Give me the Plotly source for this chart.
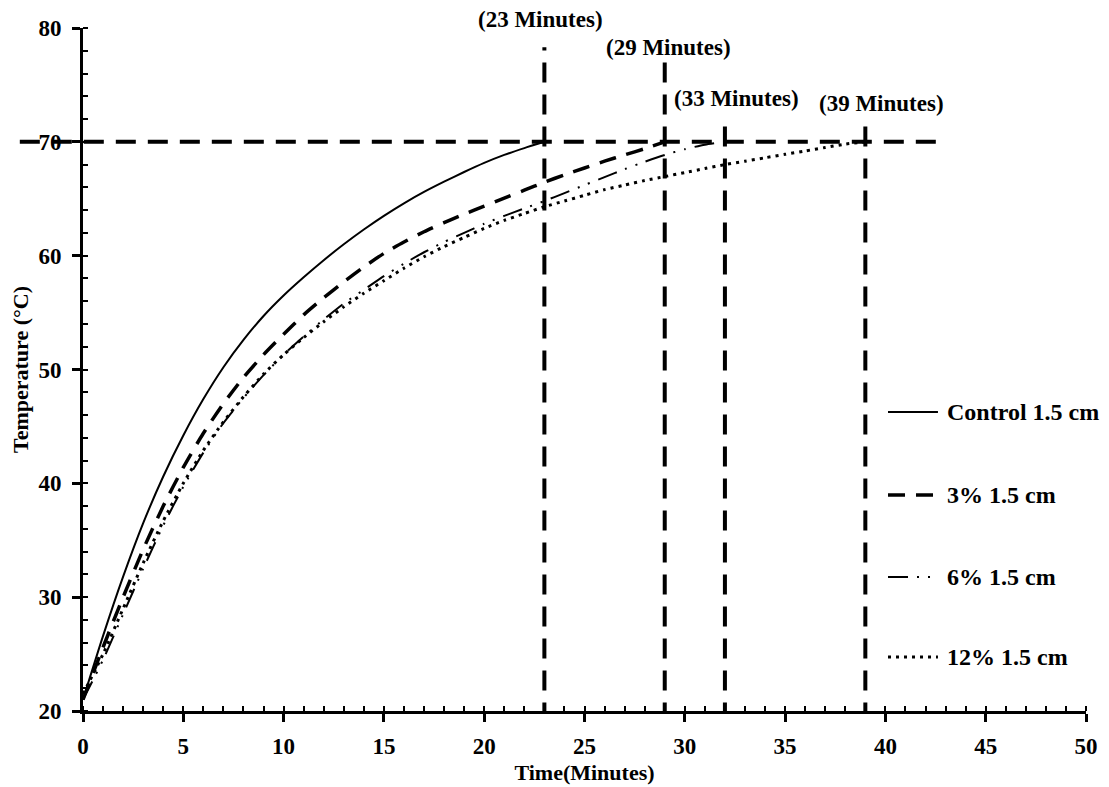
import plotly.graph_objects as go

# ---- data ----
t_control = list(range(0, 24))
T_control = [21, 26.6, 31.8, 36.5, 40.6, 44.2, 47.4, 50.2, 52.6, 54.7, 56.5, 58.1, 59.6, 61.0,
             62.3, 63.5, 64.6, 65.6, 66.5, 67.35, 68.15, 68.85, 69.45, 70.0]

t_3 = list(range(0, 30))
T_3 = [21, 25.6, 30.0, 34.2, 38.0, 41.4, 44.4, 47.0, 49.3, 51.3, 53.1, 54.8, 56.3, 57.7, 59.0,
       60.2, 61.2, 62.1, 62.9, 63.65, 64.35, 65.05, 65.75, 66.45, 67.1, 67.7, 68.3, 68.85, 69.4, 70.0]

t_6 = list(range(0, 33))
T_6 = [21, 24.5, 28.5, 32.5, 36.3, 39.7, 42.7, 45.3, 47.5, 49.5, 51.3, 52.9, 54.4, 55.8, 57.0,
       58.2, 59.3, 60.3, 61.2, 62.0, 62.8, 63.5, 64.15, 64.8, 65.5, 66.2, 66.9, 67.6, 68.25, 68.85,
       69.35, 69.75, 70.0]

t_12 = list(range(0, 40))
T_12 = [21.5, 25, 29, 33.0, 36.7, 40.0, 42.9, 45.4, 47.6, 49.6, 51.3, 52.8, 54.2, 55.5, 56.7,
        57.8, 58.9, 59.9, 60.8, 61.6, 62.4, 63.1, 63.7, 64.3, 64.8, 65.3, 65.8, 66.2, 66.6, 66.95,
        67.3, 67.65, 68.0, 68.3, 68.6, 68.9, 69.2, 69.5, 69.8, 70.0]

series_names = ["Control 1.5 cm", "3% 1.5 cm", "6% 1.5 cm", "12% 1.5 cm"]

target_temp = 70
marker_times = [23, 29, 32, 39]          # vertical reference lines
marker_tops = [78.3, 77.2, 72.4, 72.2]   # where each vertical line ends
marker_labels = ["(23 Minutes)", "(29 Minutes)", "(33 Minutes)", "(39 Minutes)"]
label_x = [22.8, 29.2, 32.6, 39.8]
label_y_paper = [1.013, 0.972, 0.897, 0.890]

x_ticks = [0, 5, 10, 15, 20, 25, 30, 35, 40, 45, 50]
y_ticks = [20, 30, 40, 50, 60, 70, 80]

FONT = "Liberation Serif"

# legend layout (paper coordinates of the plot area)
LEG_X0, LEG_X1, LEG_TX = 0.8026, 0.8524, 0.8594
LEG_Y = [0.4378, 0.3163, 0.1962, 0.0791]

fig = go.Figure()

styles = [
    dict(color="black", width=2, dash="solid"),
    dict(color="black", width=3.5, dash="17px,11px"),
    dict(color="black", width=2, dash="20px,9px,2px,9px,2px,9px"),
    dict(color="black", width=3, dash="3px,5px"),
]
for i, (tx, ty) in enumerate([(t_control, T_control), (t_3, T_3), (t_6, T_6), (t_12, T_12)]):
    fig.add_trace(go.Scatter(
        x=tx, y=ty, mode="lines", name=series_names[i],
        line=dict(shape="spline", smoothing=0.6, **styles[i]),
        showlegend=False,
    ))
    # legend sample + label
    fig.add_shape(type="line", xref="paper", yref="paper", x0=LEG_X0, x1=LEG_X1,
                  y0=LEG_Y[i], y1=LEG_Y[i], line=styles[i])
    fig.add_annotation(x=LEG_TX, y=LEG_Y[i], xref="paper", yref="paper",
                       text="<b>" + series_names[i] + "</b>", xanchor="left", yanchor="middle",
                       showarrow=False, font=dict(family=FONT, size=24, color="black"))

ref_line = dict(color="black", width=4, dash="20px,12px")
# horizontal reference line at 70 (extends past the y axis on the left)
fig.add_shape(type="line", xref="paper", yref="y", x0=-0.063, x1=43.0 / 50,
              y0=target_temp, y1=target_temp, line=ref_line, layer="above")

for xt, top in zip(marker_times, marker_tops):
    fig.add_shape(type="line", xref="x", yref="y", x0=xt, x1=xt, y0=19.0, y1=top,
                  line=ref_line, layer="above")

for txt, lx, ly in zip(marker_labels, label_x, label_y_paper):
    fig.add_annotation(x=lx, y=ly, xref="x", yref="paper", text="<b>" + txt + "</b>",
                       xanchor="center", yanchor="middle",
                       showarrow=False, font=dict(family=FONT, size=23, color="black"))

axis_common = dict(
    showgrid=False, zeroline=False, showline=True, linecolor="black", linewidth=3,
    ticks="outside", ticklen=8, tickwidth=3, tickcolor="black", automargin=False,
    tickfont=dict(family=FONT, size=23, color="black"),
)

fig.update_xaxes(
    range=[0, 50], tickvals=x_ticks, ticktext=[f"<b>{v}</b>" for v in x_ticks],
    minor=dict(ticks="inside", dtick=1, ticklen=5, tickwidth=2, tickcolor="black"),
    ticklabelstandoff=4,
    title=dict(text="<b>Time(Minutes)</b>", font=dict(family=FONT, size=22, color="black"), standoff=8),
    **axis_common,
)
fig.update_yaxes(
    range=[20, 80], tickvals=y_ticks, ticktext=[f"<b>{v}</b>" for v in y_ticks],
    minor=dict(ticks="inside", dtick=2, ticklen=5, tickwidth=2, tickcolor="black"),
    ticklabelstandoff=6,
    title=dict(text="<b>Temperature (°C)</b>", font=dict(family=FONT, size=22, color="black"), standoff=4),
    **axis_common,
)

# the page adds an 8px body margin, so the figure is sized to fit inside the window
fig.update_layout(
    width=1101, height=779,
    margin=dict(l=75, r=23, t=20, b=76),
    plot_bgcolor="white", paper_bgcolor="white",
    showlegend=False,
)

fig.write_html("out.html")
